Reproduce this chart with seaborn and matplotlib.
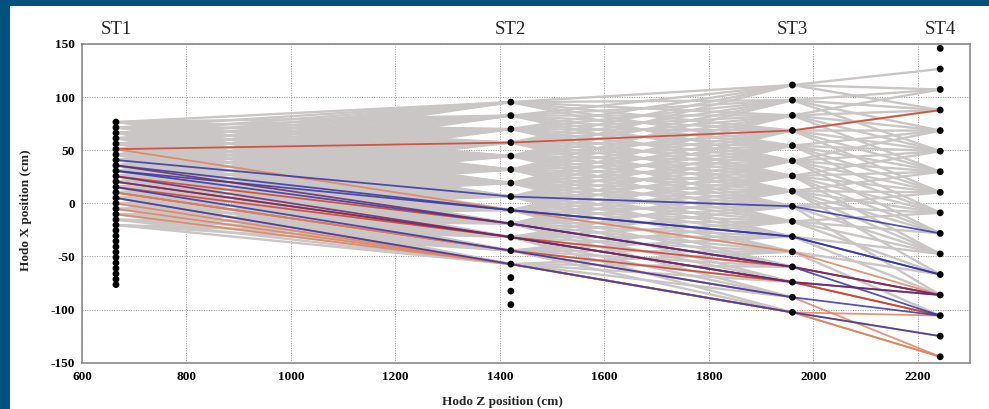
import matplotlib
matplotlib.use("Agg")
import matplotlib.pyplot as plt
import matplotlib.transforms as mtransforms
from matplotlib.patches import Rectangle
from matplotlib.ticker import MultipleLocator
import pandas as pd
import seaborn as sns

# stations along the beam (cm)
station_names = ["ST1", "ST2", "ST3", "ST4"]
station_z = [665, 1421, 1960, 2243]

# hodoscope paddle centres in X (cm)
st1_x = [76.5, 71.4, 66.3, 61.2, 56.1, 51.0, 45.9, 40.8, 35.7, 30.6, 25.5,
         20.4, 15.3, 10.2, 5.1, 0.0, -5.1, -10.2, -15.3, -20.4, -25.5, -30.6,
         -35.7, -40.8, -45.9, -51.0, -56.1, -61.2, -66.3, -71.4, -76.5]
st2_x = [95.3, 82.6, 69.9, 57.2, 44.5, 31.8, 19.1, 6.4, -6.4, -19.1, -31.8,
         -44.5, -57.2, -69.9, -82.6, -95.3]
st3_x = [111.4, 97.1, 82.8, 68.6, 54.3, 40.0, 25.8, 11.5, -2.8, -17.0, -31.3,
         -45.6, -59.8, -74.1, -88.4, -102.6]
st4_x = [145.9, 126.5, 107.2, 87.8, 68.5, 49.1, 29.8, 10.4, -8.9, -28.3,
         -47.6, -67.0, -86.3, -105.7, -125.0, -144.4]

# grey road segments ST1 -> ST2: ST2 paddle -> (first, last) ST1 paddle
gap12_fans = {0: (0, 7), 1: (0, 9), 2: (0, 11), 3: (0, 12), 4: (0, 13),
              5: (0, 14), 6: (1, 15), 7: (2, 16), 8: (4, 17), 9: (6, 18),
              10: (8, 19), 11: (10, 19), 12: (12, 19)}
# grey road segments ST2 -> ST3: ST3 paddle -> (first, last) ST2 paddle
gap23_fans = {0: (0, 4), 1: (0, 5), 2: (0, 6), 3: (0, 7), 4: (0, 8),
              5: (0, 9), 6: (1, 9), 7: (2, 10), 8: (3, 10), 9: (4, 11),
              10: (5, 11), 11: (6, 12), 12: (7, 12), 13: (8, 12),
              14: (9, 12), 15: (10, 12)}
# grey road segments ST3 -> ST4: ST4 paddle -> ST3 paddles
gap34_links = {1: [0], 2: [0, 1, 2], 3: [0, 1, 2, 3], 4: [1, 2, 3, 4, 5],
               5: [1, 2, 3, 4, 5, 6], 6: [2, 3, 4, 5, 6, 7],
               7: [3, 4, 5, 6, 7, 8], 8: [4, 5, 6, 7, 8, 9],
               9: [5, 6, 7, 9], 10: [6, 7, 8, 9, 10],
               11: [7, 9, 11], 12: [8, 10], 13: [11]}

# highlighted roads: paddle hit at ST1..ST4 and colour class
road_paddles = [(5, 3, 3, 3), (5, 8, 11, 12), (7, 7, 8, 9), (8, 8, 10, 11),
                (9, 9, 12, 13), (8, 9, 12, 12), (10, 9, 12, 12),
                (11, 10, 13, 13), (11, 10, 13, 12), (12, 10, 12, 12),
                (12, 11, 14, 13), (13, 11, 14, 15), (14, 12, 15, 14),
                (14, 12, 15, 15), (15, 12, 15, 13), (16, 12, 15, 15),
                (13, 11, 13, 13), (17, 12, 15, 14), (10, 10, 13, 12),
                (9, 8, 10, 11)]
road_kind = ["red", "orange", "blue", "blue", "blue", "purple", "red",
             "red", "purple", "red", "blue", "orange", "blue", "orange",
             "orange", "orange", "red", "orange", "purple", "blue"]

road_palette = {"red": "#d2412a", "orange": "#e0835c", "blue": "#3636a6",
                "purple": "#6a2a6e"}
grey = "#cbc6c6"
navy = "#00527f"

sns.set_style("white")
plt.rcParams["font.family"] = ["Liberation Serif", "DejaVu Serif"]
plt.rcParams["axes.unicode_minus"] = False

paddles = [st1_x, st2_x, st3_x, st4_x]

# long-form table of grey segments
rows = []
seg = 0


def add_seg(s_a, i_a, s_b, i_b):
    global seg
    rows.append({"seg": seg, "z": station_z[s_a], "x": paddles[s_a][i_a]})
    rows.append({"seg": seg, "z": station_z[s_b], "x": paddles[s_b][i_b]})
    seg += 1


for j, (a, b) in gap12_fans.items():
    for i in range(a, b + 1):
        add_seg(0, i, 1, j)
for j, (a, b) in gap23_fans.items():
    for i in range(a, b + 1):
        add_seg(1, i, 2, j)
for j, srcs in gap34_links.items():
    for i in srcs:
        add_seg(2, i, 3, j)
grey_df = pd.DataFrame(rows)

road_rows = []
for r, (hits, kind) in enumerate(zip(road_paddles, road_kind)):
    for s, idx in enumerate(hits):
        road_rows.append({"road": r, "z": station_z[s], "x": paddles[s][idx],
                          "kind": kind})
road_df = pd.DataFrame(road_rows)

dot_rows = []
for s, xs in enumerate(paddles):
    for x in xs:
        dot_rows.append({"z": station_z[s], "x": x})
dot_df = pd.DataFrame(dot_rows)

fig = plt.figure(figsize=(9.89, 4.09), dpi=100, facecolor=navy)
fig.patches.append(Rectangle((10 / 989, 0), 1, 403 / 409, transform=fig.transFigure,
                             facecolor="white", edgecolor="none", zorder=-5))
ax = fig.add_axes([82 / 989, 1 - 362.7 / 409, 888 / 989, 318.7 / 409])

sns.lineplot(data=grey_df, x="z", y="x", units="seg", estimator=None,
             sort=False, color=grey, lw=1.7, ax=ax)
sns.lineplot(data=road_df, x="z", y="x", units="road", estimator=None,
             sort=False, hue="kind", palette=road_palette, lw=1.3,
             alpha=0.85, legend=False, ax=ax)
sns.scatterplot(data=dot_df, x="z", y="x", color="black", s=24,
                edgecolor="none", zorder=5, ax=ax)

ax.set_xlim(600, 2300)
ax.set_ylim(-150, 150)
ax.xaxis.set_major_locator(MultipleLocator(200))
ax.xaxis.set_minor_locator(MultipleLocator(50))
ax.yaxis.set_major_locator(MultipleLocator(50))
ax.yaxis.set_minor_locator(MultipleLocator(10))
ax.grid(True, which="major", color="#9a9a9a", ls=(0, (1, 1.5)), lw=0.7)
ax.set_axisbelow(True)

for sp in ax.spines.values():
    sp.set_color("#8a8a8a")
    sp.set_linewidth(1.2)
ax.tick_params(axis="both", which="both", direction="in", colors="#555555",
               labelcolor="black", labelsize=9.5)
ax.tick_params(axis="x", which="major", length=8, pad=6)
ax.tick_params(axis="x", which="minor", length=4)
ax.tick_params(axis="y", which="major", length=20, pad=5)
ax.tick_params(axis="y", which="minor", length=10)
for lab in ax.get_xticklabels() + ax.get_yticklabels():
    lab.set_fontweight("bold")

ax.set_xlabel("Hodo Z position (cm)", fontsize=9.5, fontweight="bold")
ax.set_ylabel("Hodo X position (cm)", fontsize=9.5, fontweight="bold")
ax.xaxis.set_label_coords(0.473, -0.105)
ax.yaxis.set_label_coords(-0.056, 0.48)

trans = mtransforms.blended_transform_factory(ax.transData, ax.transAxes)
for name, z in zip(station_names, station_z):
    ax.text(z, 1.047, name, transform=trans, ha="center", va="center",
            fontsize=13.5, clip_on=False)

fig.savefig("out.png", dpi=100, facecolor=navy)
